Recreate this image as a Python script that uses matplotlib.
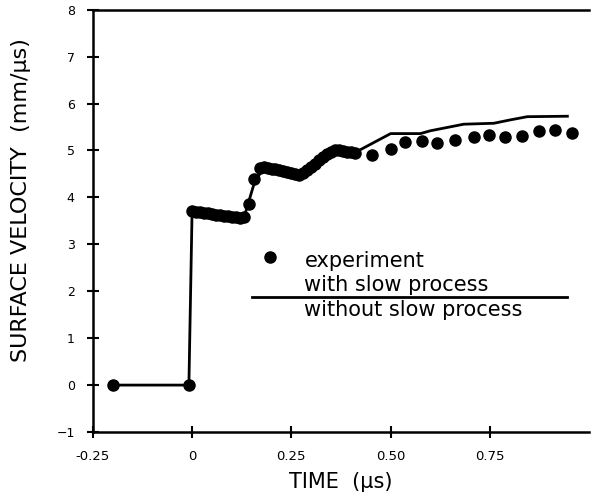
import matplotlib
matplotlib.use("Agg")
import matplotlib.pyplot as plt

# experiment
exp_t = [-0.20, -0.008, 0.0, 0.01, 0.02, 0.03, 0.04, 0.05, 0.06, 0.07, 0.08,
         0.09, 0.10, 0.11, 0.12, 0.13, 0.143, 0.156, 0.17, 0.18, 0.19, 0.20,
         0.21, 0.22, 0.23, 0.24, 0.25, 0.26, 0.27, 0.28, 0.29, 0.30, 0.31,
         0.32, 0.33, 0.34, 0.35, 0.36, 0.37, 0.38, 0.39, 0.40, 0.41, 0.453,
         0.50, 0.537, 0.579, 0.617, 0.663, 0.71, 0.747, 0.789, 0.831, 0.873,
         0.915, 0.957]
exp_v = [0.0, 0.0, 3.70, 3.69, 3.68, 3.67, 3.66, 3.64, 3.63, 3.62, 3.61,
         3.60, 3.59, 3.58, 3.57, 3.58, 3.87, 4.40, 4.62, 4.65, 4.63, 4.61,
         4.60, 4.58, 4.56, 4.54, 4.52, 4.50, 4.48, 4.52, 4.58, 4.65, 4.72,
         4.80, 4.87, 4.93, 4.97, 5.00, 5.00, 4.98, 4.97, 4.96, 4.95, 4.90,
         5.04, 5.18, 5.21, 5.15, 5.22, 5.29, 5.33, 5.29, 5.31, 5.41,
         5.43, 5.38]

# calculation
model_t = [-0.20, -0.008, 0.0, 0.13, 0.155, 0.18, 0.27, 0.30, 0.37, 0.42,
           0.50, 0.575, 0.60, 0.684, 0.76, 0.80, 0.844, 0.945]
model_v = [0.0, 0.0, 3.70, 3.55, 4.26, 4.65, 4.47, 4.62, 5.00, 5.00,
           5.36, 5.36, 5.42, 5.56, 5.58, 5.65, 5.72, 5.73]

xticks = [-0.25, 0, 0.25, 0.50, 0.75]
xticklabels = ["-0.25", "0", "0.25", "0.50", "0.75"]
yticks = [-1, 0, 1, 2, 3, 4, 5, 6, 7, 8]

plt.rcParams['font.family'] = ['DejaVu Sans']

fig = plt.figure(figsize=(5.91, 4.98), dpi=100)
ax = fig.add_axes([0.157, 0.1325, 0.84, 0.848])

ax.plot(model_t, model_v, color='black', lw=2.0, zorder=2)
ax.plot(exp_t, exp_v, 'o', color='black', ms=8, zorder=3)

ax.set_xlim(-0.25, 1.0)
ax.set_ylim(-1, 8)
ax.set_xticks(xticks)
ax.set_xticklabels(xticklabels)
ax.set_yticks(yticks)
ax.tick_params(direction='inout', length=8, width=1.5, labelsize=9)
ax.tick_params(axis='x', pad=9, labelsize=9.5)
ax.tick_params(axis='y', pad=9)

for s in ['left', 'bottom', 'top']:
    ax.spines[s].set_linewidth(1.8)
ax.spines['right'].set_visible(False)

ax.set_xlabel("TIME  (\u03bcs)", fontsize=15)
ax.xaxis.set_label_coords(0.5, -0.095)
ax.set_ylabel("SURFACE VELOCITY  (mm/\u03bcs)", fontsize=16)
ax.yaxis.set_label_coords(-0.125, 0.55)

# legend, laid out as in the original figure
ax.plot([0.196], [2.73], 'o', color='black', ms=8, zorder=3)
ax.text(0.283, 2.65, "experiment", fontsize=15, va='center', ha='left')
ax.text(0.283, 2.13, "with slow process", fontsize=15, va='center', ha='left')
ax.plot([0.15, 0.945], [1.88, 1.88], color='black', lw=2.0)
ax.text(0.283, 1.6, "without slow process", fontsize=15, va='center', ha='left')

fig.savefig("out.png", dpi=100)
